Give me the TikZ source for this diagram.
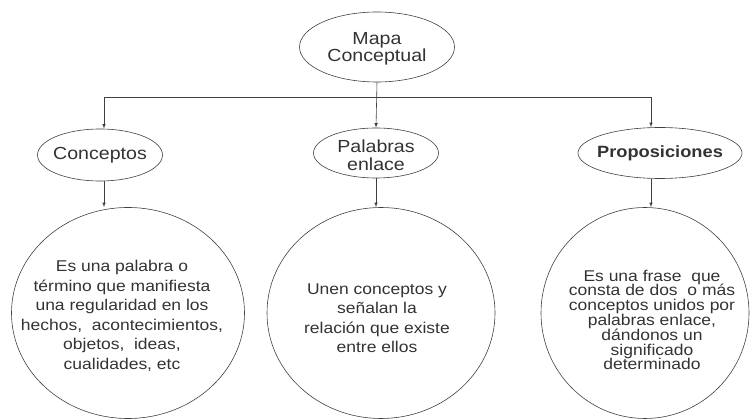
\documentclass[tikz,border=0pt]{standalone}
\usepackage{fontspec}
\setmainfont{Liberation Sans}[FakeStretch=1.12]
\usetikzlibrary{shapes.geometric}

\tikzset{bubble/.style={draw=black!75,ellipse,line width=0.6pt,inner sep=0pt}}
\tikzstyle{title}=[font=\fontsize{17.5}{17.5}\selectfont,align=center,text=black!80]
\tikzstyle{body}=[font=\fontsize{15.6}{19.5}\selectfont,align=center,text=black!80]
\tikzstyle{link}=[->,line width=0.6pt,draw=black!75]

\begin{document}
\begin{tikzpicture}[x=1pt,y=-1pt]
	\useasboundingbox (0,0) rectangle (750,419);
	\begin{scope}[>=latex] %filled tips
		% top
		\node[bubble,minimum width=155pt,minimum height=70pt] (mapa) at (377,47) {};
		\node[title] (mapa-t) at (377,49) {Mapa\\Conceptual};
		% second row
		\node[bubble,minimum width=125pt,minimum height=52pt] (conc) at (100,155) {};
		\node[title] (conc-t) at (conc) {Conceptos};
		\node[bubble,minimum width=125pt,minimum height=50pt] (pal) at (376,153) {};
		\node[title] (pal-t) at (376,155) {Palabras\\enlace};
		\node[bubble,minimum width=164pt,minimum height=51pt] (prop) at (660,153) {};
		\node[title,font=\fontsize{16.3}{16.5}\selectfont\bfseries] (prop-t) at (prop) {Proposiciones};
		% definitions
		\node[bubble,minimum width=233pt,minimum height=211pt] (def1) at (128,313) {};
		\node[body] (def1-t) at (122,316) {Es una palabra o\\término que manifiesta\\una regularidad en los\\hechos,\ \ acontecimientos,\\objetos,\ \ ideas,\\cualidades, etc};
		\node[bubble,minimum width=228pt,minimum height=211pt] (def2) at (381,313) {};
		\node[body] (def2-t) at (377,318) {Unen conceptos y\\señalan la\\relación que existe\\entre ellos};
		\node[bubble,minimum width=208pt,minimum height=211pt] (def3) at (645,313) {};
		\node[body,font=\fontsize{15.6}{14.8}\selectfont] (def3-t) at (652,320) {Es una frase\ \ que\\consta de dos\ \ o más\\conceptos unidos por\\palabras enlace,\\dándonos un\\significado\\determinado};
		% connectors
		\coordinate (busL) at (104,97);
		\coordinate (busR) at (651,97);
		\draw[line width=0.6pt,draw=black!75] (busL) -- (busR);
		\draw[link] (mapa.south) -- (pal.north);
		\draw[link] (busL) -- (busL |- conc.north);
		\draw[link] (busR) -- (busR |- prop.north);
		\draw[link] (busL |- conc.south) -- (busL |- def1.north);
		\draw[link] (pal.south) -- (pal.south |- def2.north);
		\draw[link] (busR |- prop.south) -- (busR |- def3.north);
	\end{scope}
\end{tikzpicture}
\end{document}
